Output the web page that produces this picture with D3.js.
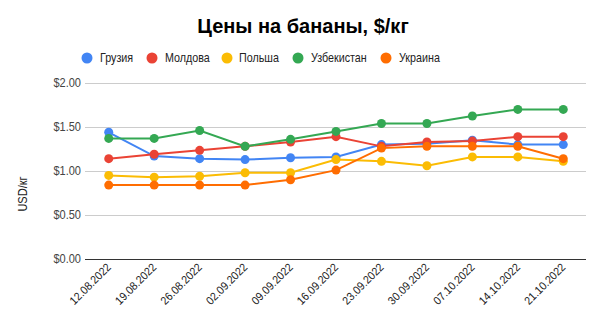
<!DOCTYPE html>
<html><head><meta charset="utf-8">
<script src="https://cdn.jsdelivr.net/npm/d3@7"></script>
<style>body{margin:0;background:#fff;}svg{display:block;font-family:Arial,"Liberation Sans",sans-serif;}</style>
</head><body><svg id="c" width="603" height="331"></svg>
<script>
const dates = ["12.08.2022","19.08.2022","26.08.2022","02.09.2022","09.09.2022","16.09.2022","23.09.2022","30.09.2022","07.10.2022","14.10.2022","21.10.2022"];
const seriesNames = ["Грузия","Молдова","Польша","Узбекистан","Украина"];
const seriesColors = ["#4285F4","#EA4335","#FBBC04","#34A853","#FF6D01"];
const georgia    = [1.44,1.17,1.14,1.13,1.15,1.16,1.30,1.31,1.35,1.30,1.30];
const moldova    = [1.14,1.19,1.235,1.28,1.33,1.39,1.28,1.33,1.34,1.39,1.39];
const poland     = [0.95,0.93,0.94,0.98,0.98,1.13,1.11,1.06,1.16,1.16,1.11];
const uzbekistan = [1.37,1.37,1.46,1.28,1.36,1.45,1.54,1.54,1.625,1.70,1.70];
const ukraine    = [0.84,0.84,0.84,0.84,0.90,1.01,1.26,1.28,1.28,1.28,1.14];
const yTicks = [0,0.5,1,1.5,2];
const seriesValues = [georgia,moldova,poland,uzbekistan,ukraine];

const svg = d3.select("#c");
const x = d3.scalePoint().domain(dates).range([86,586]).padding(0.5);
const y = d3.scaleLinear().domain([0,2]).range([259,83]);

svg.append("text").attr("x",303).attr("y",33).attr("text-anchor","middle")
  .attr("font-size",20).attr("font-weight","bold").attr("fill","#000").text("Цены на бананы, $/кг");

// legend
const legX = [[87,100],[152,165],[227,239],[298,311],[386,399]];
seriesNames.forEach((n,i)=>{
  svg.append("circle").attr("cx",legX[i][0]).attr("cy",58).attr("r",5.5).attr("fill",seriesColors[i]);
  svg.append("text").attr("transform",`translate(${legX[i][1]},62) scale(0.86,1)`)
    .attr("font-size",12.5).attr("fill","#222").text(n);
});

// grid
const grid = svg.append("g");
yTicks.forEach(t=>{
  grid.append("line").attr("x1",85).attr("x2",586).attr("y1",y(t)).attr("y2",y(t))
    .attr("stroke", t===0 ? "#333" : "#ccc").attr("stroke-width",1).attr("shape-rendering","crispEdges");
  svg.append("text").attr("transform",`translate(81,${y(t)+4}) scale(0.92,1)`).attr("text-anchor","end")
    .attr("font-size",12).attr("fill","#444").text("$" + t.toFixed(2));
});

svg.append("text").attr("transform","translate(27,194) rotate(-90) scale(0.92,1)").attr("text-anchor","middle")
  .attr("font-size",12).attr("fill","#222").text("USD/кг");

// x labels
dates.forEach(d=>{
  svg.append("text").attr("transform",`translate(${x(d)+3},${268}) rotate(-45) scale(0.92,1)`)
    .attr("text-anchor","end").attr("font-size",11.5).attr("fill","#222").text(d);
});

const line = d3.line().x((v,i)=>x(dates[i])).y(v=>y(v));
seriesValues.forEach((vals,si)=>{
  const g = svg.append("g");
  g.append("path").datum(vals).attr("d",line).attr("fill","none")
    .attr("stroke",seriesColors[si]).attr("stroke-width",2);
  g.selectAll("circle").data(vals).join("circle")
    .attr("cx",(v,i)=>x(dates[i])).attr("cy",v=>y(v)).attr("r",4.5).attr("fill",seriesColors[si]);
});
</script></body></html>
